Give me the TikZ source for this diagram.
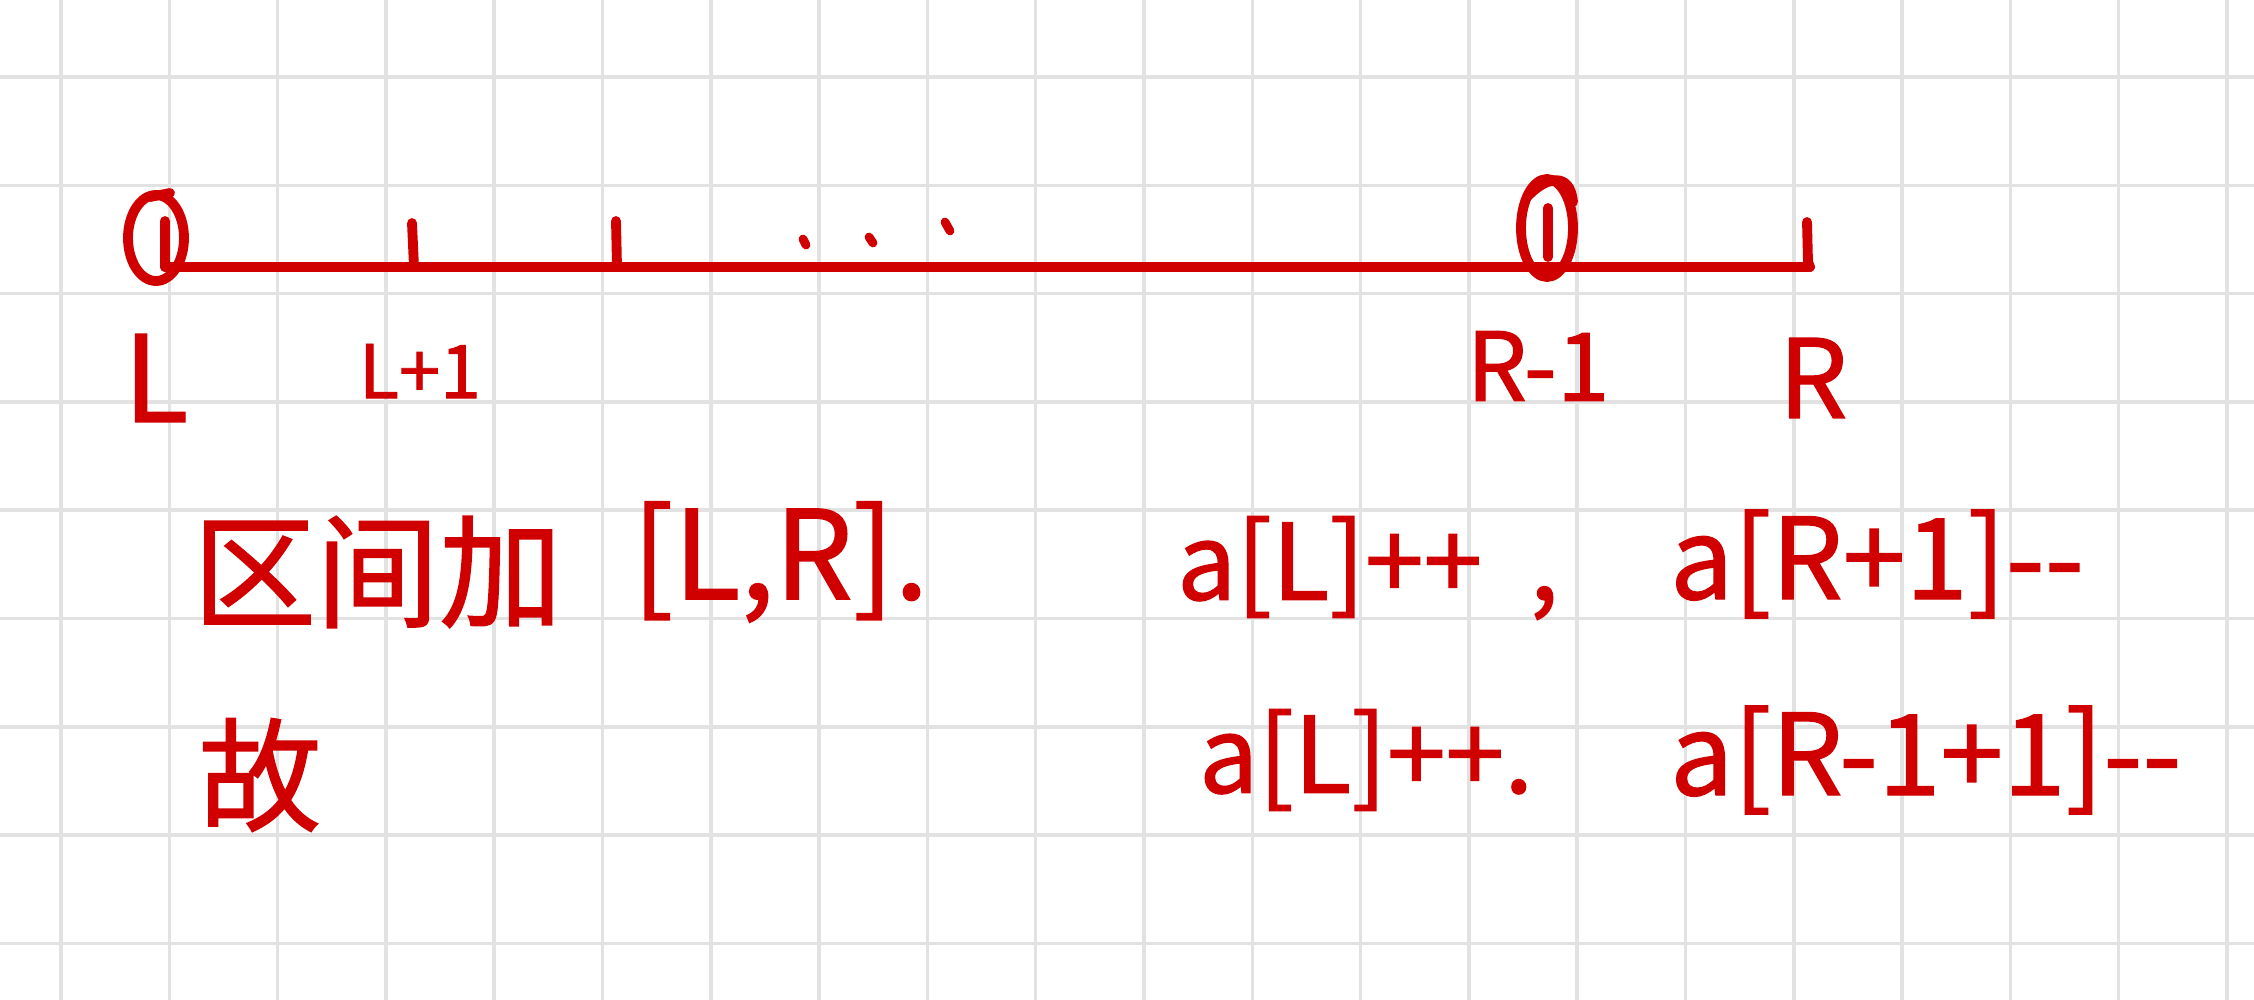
\documentclass[tikz,border=0pt]{standalone}
\usepackage{fontspec}
\newfontfamily\cjk[FakeBold=1.2]{Noto Sans CJK SC}
\definecolor{inkred}{RGB}{208,0,0}
\definecolor{gridgray}{RGB}{226,226,226}
\newcommand{\fsz}[1]{\cjk\fontsize{#1}{#1}\selectfont}
\begin{document}
\begin{tikzpicture}[x=0.01cm,y=-0.01cm,
  ink/.style={draw=inkred,line width=2.8pt,line cap=round,line join=round},
  dotink/.style={draw=inkred,line width=2.5pt,line cap=round},
  lbl/.style={text=inkred,inner sep=0pt,outer sep=0pt},
  gridline/.style={draw=gridgray,line width=1pt}]
\fill[white] (0,0) rectangle (2254,1000);
\useasboundingbox (0,0) rectangle (2254,1000);
% grid paper
\foreach \k in {0,...,20} \draw[gridline] ({61+108.3*\k},0) -- ({61+108.3*\k},1000);
\foreach \j in {0,...,8} \draw[gridline] (0,{77+108.3*\j}) -- (2254,{77+108.3*\j});
% number line
\coordinate (Lpt) at (165,267);
\coordinate (Rpt) at (1810,267);
\draw[ink] (Lpt) -- (Rpt);
\draw[ink] (165,221) -- (Lpt);
\draw[ink] (412,223) -- (414,267);
\draw[ink] (616,221) -- (617,267);
\draw[ink] (1548,208) -- (1548,257);
\draw[ink] (1807,222) -- (1808,262) -- (Rpt);
% circles
\draw[ink] (156,238) ellipse [x radius=28, y radius=43];
\draw[ink] (150,197) -- (170,193);
\draw[ink] (1547,228) ellipse [x radius=26, y radius=49];
\draw[ink] (1528,196) .. controls (1545,178) and (1570,170) .. (1573,202);
% dots
\draw[dotink] (803,239) -- (806,245);
\draw[dotink] (869,237) -- (873,243);
\draw[dotink] (945,222) -- (950,231);
% labels
\node[lbl,font=\fsz{34}] (Llab) at (156,378) {L};
\node[lbl,font=\fsz{21}] (L1lab) at (420,371) {L+1};
\node[lbl,font=\fsz{27}] (R1lab) at (1538,366) {R-1};
\node[lbl,font=\fsz{31}] (Rlab) at (1813,378) {R};
% text lines
\node[lbl,font=\fsz{35},anchor=west] (qj) at (193,572) {区间加};
\node[lbl,font=\fsz{35},anchor=west] (lr) at (632,562) {[L,R].};
\node[lbl,font=\fsz{35}] (gu) at (260,775) {故};
\node[lbl,font=\fsz{30},anchor=west] (r1a) at (1177,568) {a[L]++\hspace{0.45em},};
\node[lbl,font=\fsz{32},anchor=west] (r1b) at (1670,564) {a[R+1]-{}-};
\node[lbl,font=\fsz{30},anchor=west] (r2a) at (1199,760) {a[L]++.};
\node[lbl,font=\fsz{32},anchor=west] (r2b) at (1670,760) {a[R-1+1]-{}-};
\end{tikzpicture}
\end{document}
